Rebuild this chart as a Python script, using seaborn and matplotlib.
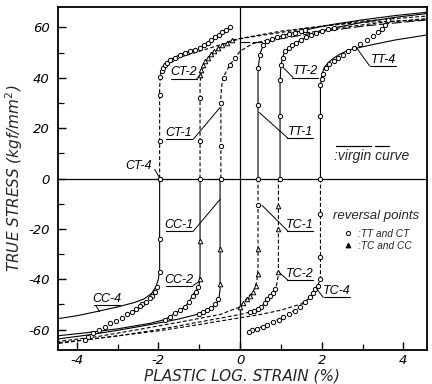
import matplotlib
matplotlib.use("Agg")
import matplotlib.pyplot as plt
from matplotlib import font_manager
import seaborn as sns
import numpy as np

# ---------------- data ----------------
# tension branches after compression (CT) -- dashed
ct4_lx = [-1.97, -1.97, -1.95, -1.88, -1.75, -1.5, -1.0, -0.5, -0.25]
ct4_ly = [0, 36, 41.5, 44.5, 46.8, 49, 52, 56.5, 60]
ct4_px = [-1.97, -1.97, -1.97, -1.95, -1.92, -1.88, -1.84, -1.78, -1.72, -1.6, -1.47, -1.35,
          -1.23, -1.1, -0.98, -0.88, -0.79, -0.7, -0.61, -0.52, -0.44, -0.35, -0.25]
ct4_py = [0, 15, 33, 40.5, 42.5, 44, 45, 46, 47, 48, 49, 49.8,
          50.5, 51.2, 52, 53, 54, 55, 56, 57, 58, 59, 60]
ct4m_x = [-1.92, -1.7, -1.4, -1.0, -0.5, 0.0, 1.0, 2.0, 3.0, 4.58]
ct4m_y = [42.5, 46, 48.5, 50.5, 53, 55.5, 58, 60.5, 62.5, 64.5]

ct2_lx = [-0.98, -0.98, -0.95, -0.88, -0.78, -0.65, -0.44, -0.2, 0.3, 1.0, 2.0, 3.0, 4.58]
ct2_ly = [0, 38, 42, 45, 48, 50.3, 53, 55, 56.5, 58.5, 60.5, 62, 63]
ct2_cx = [-0.98, -0.98, -0.98]
ct2_cy = [0, 15, 32]
ct2_tx = [-0.98, -0.95, -0.9, -0.85, -0.78, -0.72, -0.65, -0.55, -0.44, -0.32, -0.2]
ct2_ty = [41, 43, 45, 46.5, 48, 49.5, 50.5, 51.8, 53, 54, 55]

ct1_lx = [-0.47, -0.47, -0.44, -0.37, -0.25, -0.12, 0.0, 0.3, 0.8, 1.5, 2.5, 3.5, 4.58]
ct1_ly = [0, 33, 38, 41.5, 45, 48, 50.5, 53.5, 55.5, 57.5, 60, 62, 63.5]
ct1_px = [-0.47, -0.47, -0.47, -0.4, -0.25, -0.12]
ct1_py = [0, 13, 30, 40, 45, 48]

# virgin curve
vir_x = [0.0, 0.6, 1.0, 2.0, 3.0, 4.58]
vir_y = [54, 54, 55.5, 58.3, 60.5, 63]

# tension branches after tension (TT) -- solid
tt1_lx = [0.44, 0.44, 0.46, 0.5, 0.57, 0.67, 0.9, 1.2, 1.6, 2.2, 3.0, 3.8, 4.58]
tt1_ly = [0, 42, 46, 50, 53, 54.5, 56, 57.5, 59, 61, 63, 64.7, 66]
tt1_px = [0.44, 0.44, 0.44, 0.49, 0.57, 0.67, 0.78, 0.9, 1.05, 1.2, 1.35, 1.5, 1.6]
tt1_py = [0, 29, 44, 49, 53, 54.5, 55.2, 56, 56.6, 57.3, 57.9, 58.5, 59]

tt2_lx = [0.98, 0.98, 1.0, 1.07, 1.19, 1.38, 1.62, 1.87, 2.3, 3.0, 3.8, 4.58]
tt2_ly = [0, 38, 45, 49.5, 52, 54, 56, 57.8, 59.8, 62, 64, 65.5]
tt2_px = [0.98, 0.98, 0.98, 1.0, 1.04, 1.1, 1.19, 1.28, 1.38, 1.5, 1.62, 1.75, 1.87, 2.0, 2.15, 2.3]
tt2_py = [0, 25, 39, 45, 48, 50.5, 52, 53, 54, 55, 56, 57, 57.8, 58.5, 59.2, 59.8]

tt4_lx = [1.97, 1.97, 2.0, 2.06, 2.16, 2.29, 2.46, 2.6, 2.78, 3.2, 3.8, 4.58]
tt4_ly = [0, 36, 41, 44, 46, 47.8, 49.5, 50.5, 51.5, 53, 55, 57]
tt4_px = [1.97, 1.97, 1.97, 2.0, 2.04, 2.1, 2.18, 2.29, 2.4, 2.53, 2.65, 2.78, 2.95,
          3.12, 3.25, 3.37, 3.47, 3.56, 3.62]
tt4_py = [0, 25, 37, 39.5, 41.5, 44, 45.5, 46.8, 48, 49.2, 50.5, 52, 53.5,
          55, 56.5, 58, 59.5, 61, 63]

# compression branches after compression (CC) -- solid
cc4_lx = [-1.97, -1.97, -2.0, -2.06, -2.16, -2.35, -2.6, -3.0, -3.5, -4.0, -4.6]
cc4_ly = [0, -36, -40, -43, -45.5, -47.8, -49.3, -51, -52.8, -54.5, -56]
cc4_px = [-1.97, -1.97, -1.97, -2.04, -2.09, -2.16, -2.21, -2.3, -2.4, -2.46, -2.55, -2.65, -2.78,
          -2.9, -3.05, -3.19, -3.32, -3.45, -3.6, -3.73, -3.8]
cc4_py = [0, -24, -37, -43, -45, -46.5, -47.6, -49, -50, -50.8, -52, -53, -54,
          -55.5, -56.5, -57.5, -59, -60, -61.5, -63, -64]

cc2_lx = [-0.98, -0.98, -1.0, -1.05, -1.15, -1.25, -1.35, -1.47, -1.6, -1.72, -1.84, -2.2, -3.0, -3.8, -4.6]
cc2_ly = [0, -38, -42, -44, -46, -49, -51, -52.4, -53.6, -54.8, -56, -57.5, -59.7, -61.3, -62.7]
cc2_tx = [-0.98, -0.98]
cc2_ty = [-25, -40]
cc2_cx = [-1.02, -1.08, -1.15, -1.25, -1.35, -1.47, -1.6, -1.72, -1.84]
cc2_cy = [-43, -45, -46.5, -49, -51, -52.4, -53.6, -54.8, -56]

cc1_lx = [-0.49, -0.49, -0.52, -0.6, -0.74, -0.9, -1.06, -1.5, -2.2, -3.0, -3.8, -4.6]
cc1_ly = [0, -44, -48, -50.5, -52, -53, -54, -55.8, -58, -60.3, -62.3, -64]
cc1_tx = [-0.49, -0.49]
cc1_ty = [-28, -42]
cc1_cx = [-0.55, -0.62, -0.7, -0.8, -0.9, -1.0]
cc1_cy = [-48, -50, -51.5, -52.4, -53, -53.7]

# compression branches after tension (TC) -- dashed
tc1_lx = [0.44, 0.44, 0.41, 0.32, 0.17, 0.0, -0.49, -1.47, -2.5, -3.5, -4.6]
tc1_ly = [0, -36, -41, -45, -47.5, -51, -54, -57, -60, -62.8, -65]
tc1_cx = [0.44]
tc1_cy = [-10.5]
tc1_tx = [0.44, 0.44, 0.38, 0.32, 0.25, 0.17, 0.08, 0.0]
tc1_ty = [-28, -38, -42.5, -45, -46.5, -47.8, -49.5, -51]

tc2_lx = [0.94, 0.94, 0.9, 0.86, 0.74, 0.6, 0.49, 0.25, 0.0, -1.0, -2.0, -3.0, -4.6]
tc2_ly = [0, -38, -42, -44, -46.5, -49.5, -51.5, -53, -54, -57, -60, -62.5, -65.8]
tc2_tx = [0.94, 0.94, 0.94]
tc2_ty = [-11, -20, -37]
tc2_cx = [0.86, 0.8, 0.74, 0.67, 0.6, 0.52, 0.44, 0.35, 0.25]
tc2_cy = [-44, -45.3, -46.5, -48, -49.5, -51, -52, -52.5, -53]

tc4_lx = [1.97, 1.97, 1.9, 1.84, 1.72, 1.47, 1.06, 0.66, 0.22]
tc4_ly = [0, -40, -42.5, -44, -47, -51, -55, -58, -60.9]
tc4_px = [1.97, 1.97, 1.97, 1.92, 1.84, 1.78, 1.72, 1.6, 1.47, 1.35, 1.2, 1.06, 0.95, 0.8,
          0.66, 0.55, 0.42, 0.3, 0.22]
tc4_py = [-14, -31, -40, -42.5, -44, -45.6, -47, -49.2, -51, -52.5, -53.8, -55, -56, -57,
          -58, -58.8, -59.6, -60.3, -60.9]
tc4m_x = [1.84, 1.75, 1.5, 1.0, 0.5, 0.0, -1.0, -2.0, -3.0, -4.6]
tc4m_y = [-44, -47, -49.8, -52.3, -54, -55.3, -58, -60.5, -62.5, -65.5]

# curve labels: text, x centre, baseline y, underline?, leader start, leader end
label_txt = ["CT-4", "CT-2", "CT-1", "TT-1", "TT-2", "TT-4",
             "CC-1", "CC-2", "CC-4", "TC-1", "TC-2", "TC-4"]
label_x = [-2.48, -1.38, -1.5, 1.47, 1.6, 3.51, -1.5, -1.5, -3.27, 1.47, 1.47, 2.38]
label_y = [3.8, 40.9, 16.7, 17.1, 41.3, 46, -19.8, -41.3, -49.2, -19.8, -39.3, -46]
label_ul = [False, True, True, True, True, True, True, True, True, True, True, True]
lead_x0 = [-2.09, -1.06, -1.15, 1.18, 1.3, 3.17, -1.15, -1.15, -3.54, 1.18, 1.18, 2.04]
lead_y0 = [3.6, 39.7, 15.5, 15.9, 40.1, 44.8, -21, -42.5, -50.4, -21, -40.5, -47.2]
lead_x1 = [-1.99, -0.98, -0.49, 0.47, 1.06, 2.85, -0.49, -1.0, -3.44, 0.54, 0.96, 1.87]
lead_y1 = [0.8, 40.9, 28.2, 26.2, 44, 52, -8.3, -40.9, -52.8, -10.7, -37.3, -43.7]

x_ticks = [-4, -2, 0, 2, 4]
y_ticks = [-60, -40, -20, 0, 20, 40, 60]

# ---------------- style ----------------
sns.set_style("ticks")
avail = {f.name for f in font_manager.fontManager.ttflist}
if "Liberation Sans Narrow" in avail:
    lab_font, lab_size = "Liberation Sans Narrow", 10
elif "Liberation Sans" in avail:
    lab_font, lab_size = "Liberation Sans", 9
else:
    lab_font, lab_size = "DejaVu Sans", 8.5
plt.rcParams["font.family"] = ["DejaVu Sans"]
plt.rcParams["axes.unicode_minus"] = False

fig = plt.figure(figsize=(4.32, 3.84), dpi=100)
ax = fig.add_axes([58 / 432, 34 / 384, 369 / 432, 343 / 384])
ax.set_xlim(-4.46, 4.58)
ax.set_ylim(-68.1, 68.1)

K = "black"
DASH = (0, (3.5, 2.0))
LONG = (0, (9, 2.5))


def line(x, y, ls="-", lw=0.8):
    sns.lineplot(x=np.array(x, float), y=np.array(y, float), sort=False, estimator=None,
                 color=K, linestyle=ls, linewidth=lw, ax=ax, zorder=2)


def pts(x, y, m="o", s=3.1):
    sns.lineplot(x=np.array(x, float), y=np.array(y, float), sort=False, estimator=None,
                 color=K, linestyle="", marker=m, markersize=s, markerfacecolor="white",
                 markeredgecolor=K, markeredgewidth=0.7, ax=ax, zorder=3)


ax.axhline(0, color=K, lw=0.9, zorder=1)
ax.axvline(0, color=K, lw=0.9, zorder=1)

# upper half
line(ct4_lx, ct4_ly, DASH)
line(ct4m_x, ct4m_y, DASH)
pts(ct4_px, ct4_py)
line(ct2_lx, ct2_ly, DASH)
pts(ct2_cx, ct2_cy)
pts(ct2_tx, ct2_ty, "^", 3.3)
line(ct1_lx, ct1_ly, DASH)
pts(ct1_px, ct1_py)
line(vir_x, vir_y, LONG)
line(tt1_lx, tt1_ly)
pts(tt1_px, tt1_py)
line(tt2_lx, tt2_ly)
pts(tt2_px, tt2_py)
line(tt4_lx, tt4_ly)
pts(tt4_px, tt4_py)

# lower half
line(cc4_lx, cc4_ly)
pts(cc4_px, cc4_py)
line(cc2_lx, cc2_ly)
pts(cc2_tx, cc2_ty, "^", 3.3)
pts(cc2_cx, cc2_cy)
line(cc1_lx, cc1_ly)
pts(cc1_tx, cc1_ty, "^", 3.3)
pts(cc1_cx, cc1_cy)
line(tc1_lx, tc1_ly, DASH)
pts(tc1_cx, tc1_cy)
pts(tc1_tx, tc1_ty, "^", 3.3)
line(tc2_lx, tc2_ly, DASH)
pts(tc2_tx, tc2_ty, "^", 3.3)
pts(tc2_cx, tc2_cy)
line(tc4_lx, tc4_ly, DASH)
pts(tc4_px, tc4_py)
line(tc4m_x, tc4m_y, DASH)

# curve labels
for t, x, y, ul, x0, y0, x1, y1 in zip(label_txt, label_x, label_y, label_ul,
                                         lead_x0, lead_y0, lead_x1, lead_y1):
    ax.text(x, y, t, ha="center", va="baseline", fontsize=lab_size, style="italic",
            family=lab_font, color=K, zorder=5)
    if ul:
        ax.plot([x - 0.32, x + 0.32], [y0, y0], color=K, lw=0.8, zorder=5)
    ax.plot([x0, x1], [y0, y1], color=K, lw=0.7, zorder=5)

# legend texts
ax.plot([2.36, 3.2], [13.1, 13.1], color=K, lw=0.9)
ax.plot([3.3, 3.64], [13.1, 13.1], color=K, lw=0.9)
ax.text(2.31, 7.5, ":virgin curve", fontsize=lab_size + 1, style="italic", family=lab_font,
        ha="left", va="baseline")
ax.text(2.28, -15.9, "reversal points", fontsize=lab_size + 0.5, style="italic", family=lab_font,
        ha="left", va="baseline")
pts([2.65], [-21.6], "o", 3.0)
ax.text(2.88, -23.2, ":TT and CT", fontsize=7.3, style="italic", family=lab_font,
        ha="left", va="baseline")
sns.lineplot(x=np.array([2.65]), y=np.array([-26.3]), linestyle="", marker="^", markersize=3.4,
             color=K, markerfacecolor=K, markeredgecolor=K, ax=ax)
ax.text(2.88, -28.0, ":TC and CC", fontsize=7.3, style="italic", family=lab_font,
        ha="left", va="baseline")

# axes
ax.set_xticks(x_ticks)
ax.set_yticks(y_ticks)
ax.set_xticklabels([str(v) for v in x_ticks], style="italic", fontsize=9.5)
ax.set_yticklabels([str(v) for v in y_ticks], style="italic", fontsize=9.5)
ax.set_xticks(np.arange(-4, 5, 1), minor=True)
ax.set_yticks(np.arange(-60, 61, 10), minor=True)
ax.tick_params(which="major", direction="in", length=6, width=1.0, colors=K)
ax.tick_params(which="minor", direction="in", length=4, width=0.9, colors=K)
ax.tick_params(axis="x", which="major", pad=3)
ax.tick_params(axis="y", which="major", pad=6)
for s in ax.spines.values():
    s.set_visible(True)
    s.set_linewidth(1.3)
    s.set_color(K)
ax.set_xlabel("PLASTIC LOG. STRAIN (%)", fontsize=11, style="italic", labelpad=1)
ax.set_ylabel("TRUE STRESS (kgf/mm$^2$)", fontsize=11, style="italic", labelpad=2)

fig.savefig("out.png", dpi=100)
